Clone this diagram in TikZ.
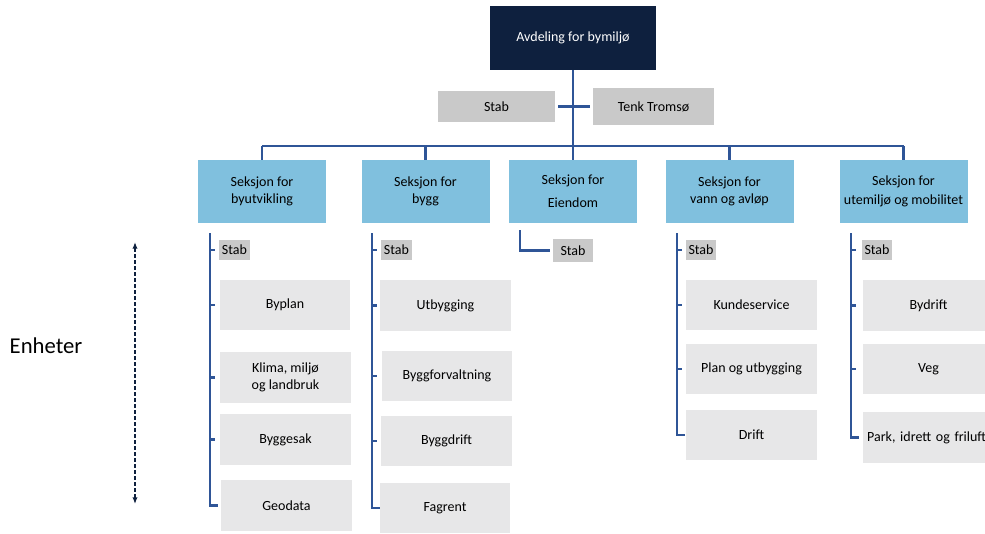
\documentclass[tikz,border=0pt]{standalone}
\usepackage{fontspec}
\setmainfont{Carlito}
\usetikzlibrary{calc,arrows.meta}
\definecolor{mynavy}{RGB}{14,32,62}
\definecolor{myblue}{RGB}{128,192,222}
\definecolor{myline}{RGB}{47,85,151}
\definecolor{mygrey}{RGB}{231,231,232}
\definecolor{mystab}{RGB}{201,201,201}
\tikzset{
  box/.style={inner sep=0pt,align=center,font=\fontsize{10.5}{12.5}\selectfont},
  seksjon/.style={box,fill=myblue,minimum width=96pt,minimum height=47pt},
  enhet/.style={box,fill=mygrey,minimum width=98pt,minimum height=38pt},
  stabbox/.style={box,fill=mystab,minimum width=23pt,minimum height=15pt},
  spine/.style={myline,line width=2pt}
}

\begin{document}
\begin{tikzpicture}[x=0.75pt,y=-0.75pt]% one unit = one pixel of the reference

    \useasboundingbox (0,0) rectangle (985,533);
    \clip (0,0) rectangle (985,533);

    \node[box,fill=mynavy,text=white,minimum width=124.5pt,minimum height=48pt](top) at (573,38) {Avdeling for bymiljø};
    \node[box,fill=mystab,minimum width=88pt,minimum height=23pt](stab) at (496.5,106.5) {Stab};
    \node[box,fill=mystab,minimum width=91pt,minimum height=28pt](tenk) at (653.5,106.5) {Tenk Tromsø};
    \coordinate (bus) at (573,146);

    \foreach \i/\x/\txt in {1/262/{Seksjon for\\byutvikling},2/425.5/{Seksjon for\\bygg},
      3/573/{Seksjon for\\[5pt]Eiendom},4/729.5/{Seksjon for\\vann og avløp},
      5/903.5/{Seksjon for\\[2pt]utemiljø og mobilitet}}{% the five sections
        \node[seksjon](s\i) at (\x,191.5) {\txt};
        \draw[spine] (s\i.north) -- (s\i.north |- bus);
    }
    \draw[spine] (top.south) -- (bus);
    \draw[spine] (s1.north |- bus) -- (s5.north |- bus);
    \draw[spine,shorten <=2.25pt,shorten >=2.25pt] (stab) -- (tenk);

    % tops of the spines below each section
    \coordinate (sp1) at (210,233);
    \coordinate (sp2) at (372,233);
    \coordinate (sp3) at (520,230);
    \coordinate (sp4) at (677,233);
    \coordinate (sp5) at (851,233);

    \foreach \s/\x in {1/234.5,2/396.5,4/701,5/877}{% small Stab boxes
        \node[stabbox](u\s0) at (\x,250) {Stab};
        \draw[spine] (sp\s |- u\s0.west) -- ++(5,0);
    }
    \node[stabbox,minimum width=30pt,minimum height=17pt](u30) at (573,250.5) {Stab};
    \draw[spine] (sp3) -- (sp3 |- u30.west) -- ($(u30.west)+(-3,0)$);

    \foreach \s/\n/\x/\y/\txt in {1/1/285/305/Byplan,1/2/285.5/377.5/{Klima, miljø\\og landbruk},
      1/3/285.5/439.5/Byggesak,1/4/286.5/505.5/Geodata,
      2/1/445.5/305.5/Utbygging,2/2/447/376/Byggforvaltning,2/3/446.5/441/Byggdrift,2/4/445/508/Fagrent,
      4/1/751.5/305/Kundeservice,4/2/751.5/369/Plan og utbygging,4/3/751.5/435/Drift,
      5/1/928.5/305.5/Bydrift,5/2/928.5/369/Veg}{%
        \node[enhet](u\s\n) at (\x,\y) {\txt};
        \draw[spine] (sp\s |- u\s\n.west) -- ++(5,0);
    }
    \node[enhet,text width=92pt,align=left](u53) at (928.5,437.5) {Park, idrett og friluft};% cut at the edge

    % spines ending in a corner at the last unit
    \draw[spine] (sp1) -- (sp1 |- u14.west) -- ++(8,0);
    \draw[spine] (sp2) -- (sp2 |- u24.west) -- ++(8,0);
    \draw[spine] (sp4) -- (sp4 |- u43.west) -- ++(8,0);
    \draw[spine] (sp5) -- (sp5 |- u53.west) -- ++(8,0);

    \node[box,font=\fontsize{17}{20}\selectfont](enheter) at (46,346) {Enheter};
    \coordinate (pil1) at (135,242);
    \coordinate (pil2) at (135,504);
    \draw[mynavy,line width=1.2pt,dash pattern=on 3pt off 1.5pt,{Latex[length=5pt,width=4pt]}-{Latex[length=5pt,width=4pt]}] (pil1) -- (pil2);

\end{tikzpicture}
\end{document}
